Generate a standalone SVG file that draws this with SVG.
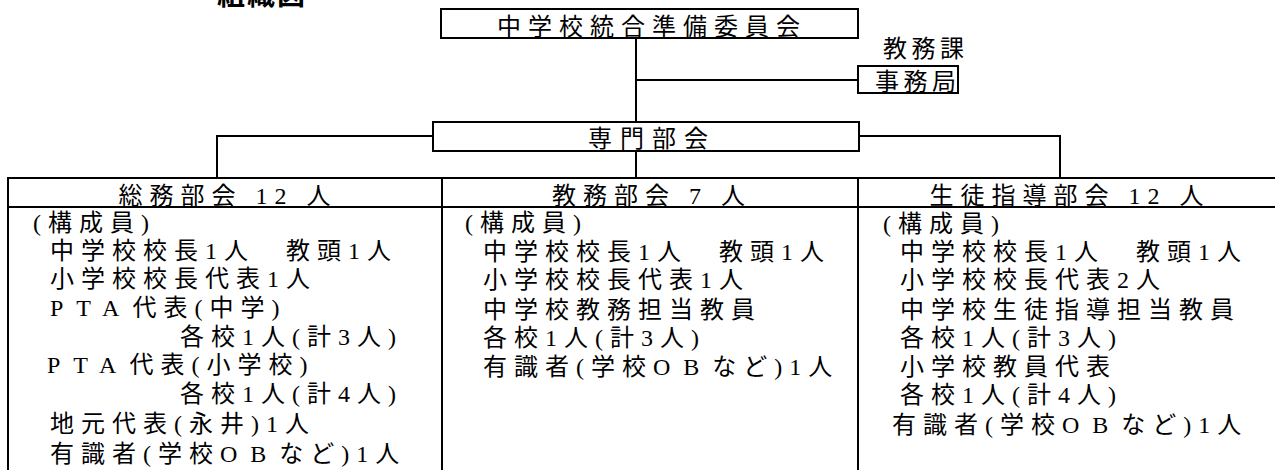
<svg xmlns="http://www.w3.org/2000/svg" width="1275" height="470" viewBox="0 0 1275 470">
<style>
.t{font-family:"Liberation Serif","Noto Sans CJK JP",serif;font-size:24px;fill:#000;letter-spacing:7px}
.h{text-anchor:middle}
.w{letter-spacing:13px}
.box{fill:#fff;stroke:#000;stroke-width:2}
.ln{fill:none;stroke:#000;stroke-width:2}
.title{font-family:"Noto Sans CJK JP",sans-serif;font-size:28px;font-weight:bold;letter-spacing:2px}
</style>
<rect width="1275" height="470" fill="#fff"/>
<text class="title" x="217" y="5">組織図</text>
<g id="connectors">
<path class="ln" d="M636 38V122M636 80H858M636 151V178M433 136H217V178M859 136H1060V178"/>
</g>
<g id="committee">
<rect class="box" x="441" y="9" width="417" height="29"/>
<text class="t h" x="652" y="35">中学校統合準備委員会</text>
</g>
<g id="secretariat">
<rect class="box" x="858" y="66" width="100" height="27"/>
<text class="t" style="letter-spacing:4.5px" x="875" y="90">事務局</text>
<text class="t" style="letter-spacing:4.5px" x="883" y="57">教務課</text>
</g>
<g id="subcommittee">
<rect class="box" x="433" y="122" width="426" height="29"/>
<text class="t h" style="letter-spacing:8px" x="652" y="147">専門部会</text>
</g>
<g id="table">
<path class="ln" d="M8 480V178H1276M8 207H1276M442 178V480M858 178V480"/>
</g>
<g id="somu">
<text class="t h" x="228" y="204">総務部会 12 人</text>
<text class="t" x="33" y="231">(構成員)</text>
<text class="t" x="50" y="259">中学校校長1人　教頭1人</text>
<text class="t" x="50" y="287">小学校校長代表1人</text>
<text class="t" x="50" y="316"><tspan class="w">PTA</tspan>代表(中学)</text>
<text class="t" x="180" y="345">各校1人(計3人)</text>
<text class="t" x="47" y="373"><tspan class="w">PTA</tspan>代表(小学校)</text>
<text class="t" x="180" y="402">各校1人(計4人)</text>
<text class="t" x="50" y="432">地元代表(永井)1人</text>
<text class="t" x="50" y="462">有識者(学校<tspan class="w">OB</tspan>など)1人</text>
</g>
<g id="kyomu">
<text class="t h" x="652" y="204">教務部会 7 人</text>
<text class="t" x="465" y="231">(構成員)</text>
<text class="t" x="483" y="260">中学校校長1人　教頭1人</text>
<text class="t" x="483" y="288">小学校校長代表1人</text>
<text class="t" x="483" y="318">中学校教務担当教員</text>
<text class="t" x="483" y="346">各校1人(計3人)</text>
<text class="t" x="483" y="375">有識者(学校<tspan class="w">OB</tspan>など)1人</text>
</g>
<g id="seito">
<text class="t h" x="1070" y="204">生徒指導部会 12 人</text>
<text class="t" x="883" y="232">(構成員)</text>
<text class="t" x="900" y="260">中学校校長1人　教頭1人</text>
<text class="t" x="900" y="288">小学校校長代表2人</text>
<text class="t" x="900" y="318">中学校生徒指導担当教員</text>
<text class="t" x="900" y="346">各校1人(計3人)</text>
<text class="t" x="900" y="375">小学校教員代表</text>
<text class="t" x="900" y="403">各校1人(計4人)</text>
<text class="t" x="892" y="433">有識者(学校<tspan class="w">OB</tspan>など)1人</text>
</g>
</svg>
